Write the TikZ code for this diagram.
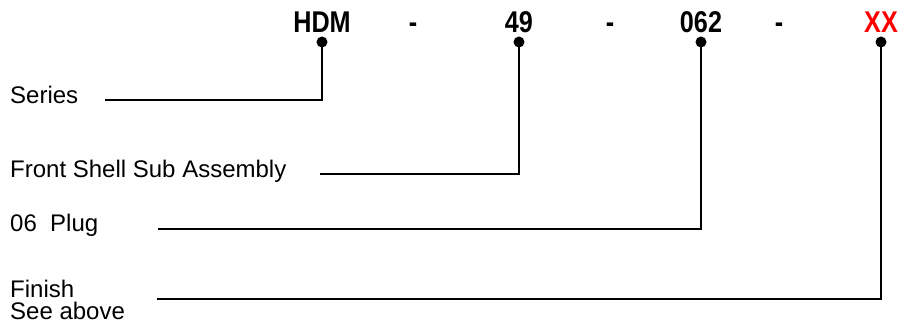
\documentclass[tikz,border=0pt]{standalone}
\usepackage{fontspec}
\setmainfont{Liberation Sans}
\newfontfamily\partfont{Liberation Sans}[FakeStretch=0.84]

\tikzset{
	part/.style={font=\partfont\bfseries\fontsize{30}{32}\selectfont, inner sep=0pt, anchor=base},
	desc/.style={font=\fontsize{24}{26}\selectfont, inner sep=0pt, anchor=base west},
	wire/.style={line width=2.8pt},
	pin/.style={fill=black}
}

\begin{document}
\begin{tikzpicture}[x=1pt, y=-1pt]
			%%%%% START %%%%%
			\useasboundingbox (0, 0) rectangle (898, 331);
			
			% part number
			\node[part] (hdm) at (322, 33) {HDM};
			\node[part] (dasha) at (413, 33) {-};
			\node[part] (sub) at (519, 33) {49};
			\node[part] (dashb) at (610, 33) {-};
			\node[part] (plug) at (701, 33) {062};
			\node[part] (dashc) at (779, 33) {-};
			\node[part, text=red] (fin) at (881, 33) {XX};
			
			\coordinate (hdmpin) at (322, 42);
			\coordinate (subpin) at (519, 42);
			\coordinate (plugpin) at (701, 42);
			\coordinate (finpin) at (881, 42);
			
			% descriptions
			\node[desc] (series) at (10, 104) {Series};
			\node[desc] (front) at (10, 178) {Front Shell Sub Assembly};
			\node[desc] (plugtype) at (10, 232) {06\ \ Plug};
			\node[desc] (finish) at (10, 298) {Finish};
			\node[desc] (seeabove) at (10, 320) {See above};
			
			\coordinate (serieswire) at (105, 100);
			\coordinate (frontwire) at (320, 174);
			\coordinate (plugwire) at (158, 229);
			\coordinate (finishwire) at (157, 299);
			
			% leaders
			\draw[wire] (hdmpin) |- (serieswire);
			\draw[wire] (subpin) |- (frontwire);
			\draw[wire] (plugpin) |- (plugwire);
			\draw[wire] (finpin) |- (finishwire);
			
			\fill[pin] (hdmpin) circle (5.5pt);
			\fill[pin] (subpin) circle (5.5pt);
			\fill[pin] (plugpin) circle (5.5pt);
			\fill[pin] (finpin) circle (5.5pt);
			
			%%%%% END %%%%%
\end{tikzpicture}
\end{document}
